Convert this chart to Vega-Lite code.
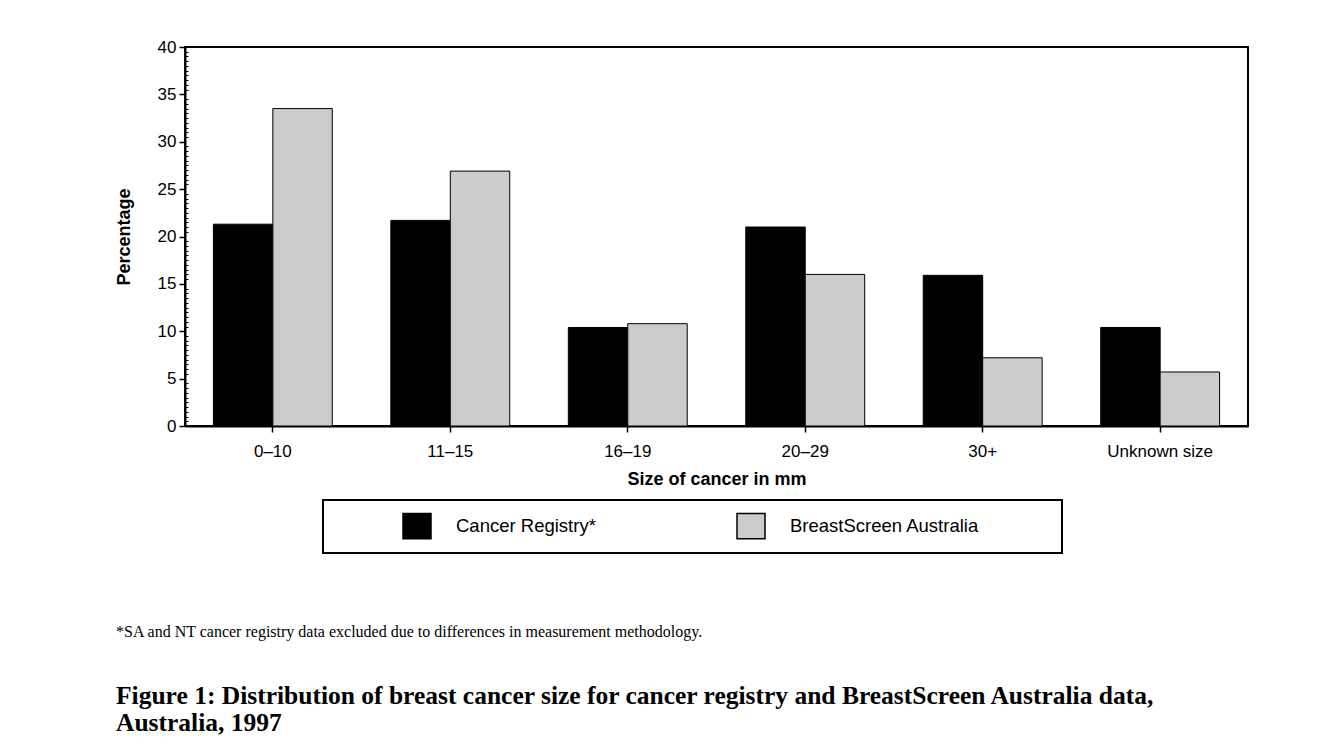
{
  "$schema": "https://vega.github.io/schema/vega-lite/v6.json",
  "autosize": {"type": "none"},
  "padding": {"left": 185, "top": 47, "right": 74, "bottom": 321},
  "width": 1063,
  "height": 379,
  "background": "white",
  "title": {
    "text": "*SA and NT cancer registry data excluded due to differences in measurement methodology.",
    "subtitle": ["Figure 1: Distribution of breast cancer size for cancer registry and BreastScreen Australia data,", "Australia, 1997"],
    "orient": "bottom",
    "anchor": "start",
    "frame": "group",
    "dx": -69,
    "offset": 70,
    "font": "Liberation Serif",
    "fontSize": 16,
    "fontWeight": "normal",
    "color": "black",
    "subtitleFont": "Liberation Serif",
    "subtitleFontSize": 25.5,
    "subtitleFontWeight": "bold",
    "subtitleColor": "black",
    "subtitlePadding": 44,
    "subtitleLineHeight": 27
  },
  "config": {
    "font": "Liberation Sans",
    "view": {"stroke": "black", "strokeWidth": 2},
    "axis": {"grid": false, "domainColor": "black", "tickColor": "black", "labelColor": "black", "titleColor": "black"},
    "legend": {"strokeWidth": 2}
  },
  "data": {
    "values": [
      {"size": "0–10", "source": "Cancer Registry*", "pct": 21.3},
      {"size": "0–10", "source": "BreastScreen Australia", "pct": 33.5},
      {"size": "11–15", "source": "Cancer Registry*", "pct": 21.7},
      {"size": "11–15", "source": "BreastScreen Australia", "pct": 26.9},
      {"size": "16–19", "source": "Cancer Registry*", "pct": 10.4},
      {"size": "16–19", "source": "BreastScreen Australia", "pct": 10.8},
      {"size": "20–29", "source": "Cancer Registry*", "pct": 21.0},
      {"size": "20–29", "source": "BreastScreen Australia", "pct": 16.0},
      {"size": "30+", "source": "Cancer Registry*", "pct": 15.9},
      {"size": "30+", "source": "BreastScreen Australia", "pct": 7.2},
      {"size": "Unknown size", "source": "Cancer Registry*", "pct": 10.4},
      {"size": "Unknown size", "source": "BreastScreen Australia", "pct": 5.7}
    ]
  },
  "resolve": {"axis": {"y": "independent"}},
  "layer": [
    {
      "mark": {"type": "bar", "stroke": "black", "strokeWidth": 1},
      "encoding": {
        "x": {
          "field": "size", "type": "nominal", "sort": null,
          "scale": {"paddingInner": 0.33, "paddingOuter": 0.16},
          "axis": {
            "title": "Size of cancer in mm", "titleFontSize": 18, "titleFontWeight": "bold", "titlePadding": 11,
            "labelAngle": 0, "labelFontSize": 17, "labelPadding": 11, "tickSize": 6, "tickWidth": 1.5, "domainWidth": 2
          }
        },
        "xOffset": {"field": "source", "type": "nominal", "sort": ["Cancer Registry*", "BreastScreen Australia"]},
        "y": {
          "field": "pct", "type": "quantitative",
          "scale": {"domain": [0, 40], "nice": false},
          "axis": {
            "title": "Percentage", "titleFontSize": 18, "titleFontWeight": "bold", "titlePadding": 24,
            "values": [0, 5, 10, 15, 20, 25, 30, 35, 40],
            "labelFontSize": 17, "labelPadding": 3, "tickSize": 6, "tickWidth": 1.5, "domainWidth": 2
          }
        },
        "color": {
          "field": "source", "type": "nominal",
          "sort": ["Cancer Registry*", "BreastScreen Australia"],
          "scale": {"domain": ["Cancer Registry*", "BreastScreen Australia"], "range": ["#000000", "#cccccc"]},
          "legend": {
            "title": "\u00a0",
            "titleOrient": "right",
            "titlePadding": 72,
            "orient": "none",
            "legendX": 138,
            "legendY": 453,
            "direction": "horizontal",
            "padding": 11,
            "strokeColor": "black",
            "fillColor": "white",
            "symbolType": "M-1,-0.9L1,-0.9L1,0.9L-1,0.9Z",
            "symbolSize": 784,
            "symbolStrokeColor": "black",
            "symbolStrokeWidth": 1.5,
            "symbolOffset": 68,
            "labelOffset": 24,
            "labelFontSize": 18.5,
            "labelLimit": 400,
            "labelColor": "black",
            "columnPadding": 72
          }
        }
      }
    },
    {
      "mark": {"type": "rule", "opacity": 0},
      "encoding": {
        "y": {
          "datum": 0, "type": "quantitative",
          "axis": {
            "orient": "left", "title": null, "labels": false, "domain": false,
            "values": [0.5,1,1.5,2,2.5,3,3.5,4,4.5,5.5,6,6.5,7,7.5,8,8.5,9,9.5,10.5,11,11.5,12,12.5,13,13.5,14,14.5,15.5,16,16.5,17,17.5,18,18.5,19,19.5,20.5,21,21.5,22,22.5,23,23.5,24,24.5,25.5,26,26.5,27,27.5,28,28.5,29,29.5,30.5,31,31.5,32,32.5,33,33.5,34,34.5,35.5,36,36.5,37,37.5,38,38.5,39,39.5],
            "tickSize": -3, "tickWidth": 1, "tickColor": "black"
          }
        }
      }
    }
  ]
}
